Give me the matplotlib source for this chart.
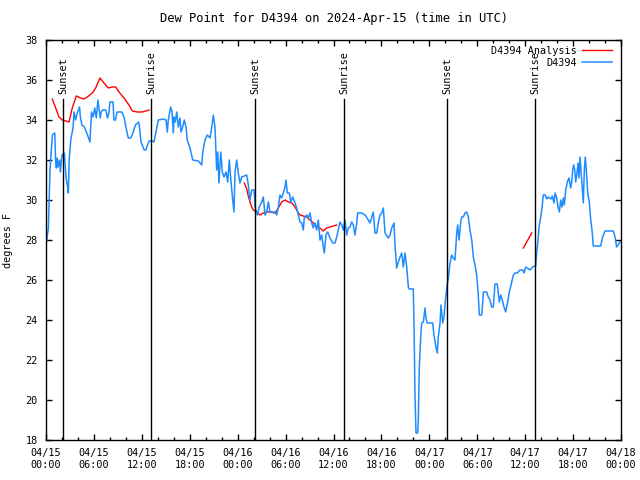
import pandas as pd
import numpy as np
import matplotlib
matplotlib.use("Agg")
import matplotlib.pyplot as plt
import matplotlib.dates as mdates

plt.rcParams["font.family"] = ["DejaVu Sans Mono"]
plt.rcParams["font.size"] = 7.3

start = pd.Timestamp("2024-04-15 00:00")

# observed dew point (hours since start, degrees F)
obs_hours = [0.0, 0.3, 0.5, 0.8, 1.1, 1.2, 1.3, 1.4, 1.5, 1.7, 1.8, 2.0, 2.3, 2.5, 2.7, 2.8,
             2.9, 3.1, 3.4, 3.5, 3.7, 3.9, 4.2, 4.3, 4.5, 4.8, 5.2, 5.5, 5.7, 5.9, 6.1, 6.3,
             6.5, 6.8, 6.9, 7.1, 7.5, 7.7, 7.9, 8.0, 8.4, 8.5, 8.7, 8.9, 9.5, 9.8, 10.0, 10.3,
             10.6, 10.8, 11.2, 11.6, 11.7, 11.9, 12.3, 12.5, 12.9, 13.3, 13.52, 13.77, 14.06, 14.69,
             15.03, 15.19, 15.31, 15.61, 15.78, 15.94, 16.03, 16.19, 16.37, 16.57, 16.78, 16.9, 17.07, 17.32,
             17.53, 17.69, 18.03, 18.37, 19.07, 19.5, 19.62, 19.91, 20.2, 20.54, 20.75, 20.95, 21.16, 21.37,
             21.5, 21.66, 21.88, 22.08, 22.29, 22.54, 22.75, 22.95, 23.17, 23.38, 23.54, 23.67, 23.88, 24.08,
             24.29, 24.51, 24.83, 25.13, 25.33, 25.54, 25.76, 26.05, 26.17, 26.46, 26.71, 27.01, 27.21, 27.42,
             27.64, 27.84, 28.05, 28.68, 28.89, 29.09, 29.3, 29.51, 29.71, 29.93, 30.05, 30.22, 30.47, 30.64,
             30.89, 31.18, 31.39, 31.59, 31.81, 32.02, 32.22, 32.34, 32.64, 32.85, 33.06, 33.27, 33.47, 33.68,
             33.9, 34.1, 34.31, 34.52, 34.72, 34.85, 35.06, 35.27, 35.56, 35.9, 36.19, 36.4, 36.6, 36.81,
             37.03, 37.23, 37.44, 37.65, 37.85, 38.07, 38.28, 38.48, 38.69, 38.91, 39.03, 39.53, 39.95, 40.36,
             40.57, 40.79, 40.98, 41.2, 41.41, 41.61, 41.82, 42.04, 42.24, 42.45, 42.86, 43.08, 43.29, 43.58,
             43.7, 43.91, 44.11, 44.33, 44.54, 44.74, 44.95, 45.17, 45.37, 45.49, 45.99, 46.08, 46.21, 46.33,
             46.54, 46.62, 46.74, 46.92, 47.04, 47.25, 47.46, 47.58, 47.75, 48.42, 48.58, 48.83, 49.0, 49.12,
             49.34, 49.46, 49.55, 49.67, 49.84, 49.96, 50.18, 50.38, 50.59, 50.8, 51.0, 51.21, 51.43, 51.55,
             51.72, 51.93, 52.05, 52.25, 52.47, 52.68, 52.88, 53.09, 53.31, 53.51, 53.72, 53.93, 54.13, 54.26,
             54.56, 54.68, 54.76, 55.18, 55.38, 55.6, 55.81, 56.01, 56.14, 56.22, 56.51, 56.64, 56.76, 56.94,
             57.14, 57.35, 57.56, 57.81, 58.01, 58.23, 58.52, 58.73, 59.02, 59.35, 59.69, 59.85, 60.07, 60.27,
             60.61, 60.94, 61.14, 61.32, 61.44, 61.57, 61.77, 61.95, 62.11, 62.27, 62.52, 62.7, 62.9, 63.2,
             63.4, 63.61, 63.74, 63.95, 64.11, 64.28, 64.45, 64.61, 64.78, 64.9, 65.08, 65.28, 65.49, 65.7,
             65.83, 65.95, 66.08, 66.2, 66.33, 66.49, 66.62, 66.74, 66.87, 66.99, 67.16, 67.28, 67.41, 67.53,
             67.66, 67.83, 68.03, 68.21, 68.37, 68.53, 68.96, 69.46, 69.66, 70.0, 71.04, 71.25, 71.46, 71.88]
obs_dewpt = [27.7, 28.6, 31.5, 33.25, 33.35, 32.0, 31.6, 32.1, 31.65, 32.0, 31.4, 32.25, 32.35, 31.15, 30.65, 30.35,
             32.0, 33.0, 33.65, 34.4, 34.0, 34.35, 34.65, 34.15, 33.75, 33.65, 33.25, 32.9, 34.4, 34.15, 34.6, 34.1,
             35.0, 34.1, 34.4, 34.5, 34.5, 34.1, 34.4, 34.9, 34.9, 34.0, 34.0, 34.4, 34.4, 34.1, 33.65, 33.1,
             33.1, 33.25, 33.75, 33.9, 33.65, 32.9, 32.5, 32.5, 32.95, 32.95, 32.9, 33.4, 34.0, 34.05,
             34.0, 33.4, 34.0, 34.65, 34.4, 33.35, 34.15, 33.9, 34.4, 33.65, 34.1, 33.4, 33.6, 34.0,
             33.65, 33.0, 32.6, 32.0, 31.95, 31.75, 32.35, 33.0, 33.25, 33.1, 33.6, 34.25, 33.65, 31.5,
             32.4, 30.85, 32.4, 31.4, 31.15, 31.4, 30.9, 32.0, 30.9, 30.0, 29.4, 31.4, 32.0, 31.35,
             30.85, 31.15, 31.2, 31.25, 30.75, 30.0, 30.5, 30.5, 29.65, 29.25, 29.65, 29.9, 30.15, 29.25,
             29.4, 29.9, 29.4, 29.4, 29.25, 29.65, 30.25, 30.1, 30.35, 30.65, 31.0, 30.35, 30.35, 29.9,
             30.15, 29.85, 29.6, 29.25, 28.9, 28.85, 28.5, 29.1, 29.25, 29.1, 29.35, 28.85, 28.6, 28.85,
             28.5, 29.0, 28.0, 28.25, 27.65, 27.35, 28.25, 28.4, 28.1, 27.85, 27.85, 28.15, 28.5, 28.9,
             28.75, 28.5, 29.0, 28.25, 28.6, 28.65, 28.9, 28.75, 28.25, 28.85, 29.35, 29.35, 29.25, 29.0,
             28.85, 29.15, 29.4, 28.35, 28.35, 28.85, 29.25, 29.35, 29.6, 28.35, 28.1, 28.25, 28.6, 28.85,
             27.75, 26.6, 26.9, 27.15, 27.35, 26.65, 27.35, 26.65, 25.65, 25.55, 25.55, 23.75, 20.15, 18.35,
             18.35, 19.0, 21.6, 23.15, 23.85, 23.9, 24.6, 24.1, 23.85, 23.85, 23.25, 22.65, 22.35, 23.15,
             23.85, 24.75, 24.35, 23.85, 24.15, 24.75, 25.6, 26.1, 26.85, 27.25, 27.1, 27.0, 28.35, 28.75,
             28.0, 28.9, 29.15, 29.15, 29.35, 29.4, 29.15, 28.5, 28.0, 27.15, 26.75, 26.25, 25.25, 24.25,
             24.25, 24.85, 25.4, 25.4, 25.15, 25.0, 24.65, 24.65, 25.35, 25.8, 25.8, 25.35, 24.9, 25.25,
             25.0, 24.65, 24.4, 24.9, 25.4, 25.75, 26.25, 26.35, 26.35, 26.5, 26.5, 26.35, 26.65, 26.6,
             26.5, 26.65, 26.7, 26.7, 27.35, 27.85, 28.75, 29.15, 29.6, 30.25, 30.25, 30.05, 30.15, 30.05,
             30.2, 29.85, 30.35, 30.1, 29.65, 29.4, 30.0, 29.65, 30.1, 29.75, 30.5, 30.9, 31.1, 30.6,
             30.9, 31.5, 31.75, 31.5, 30.9, 31.35, 31.85, 31.1, 32.15, 31.5, 30.5, 29.85, 31.5, 32.15,
             31.5, 30.35, 29.9, 29.0, 28.5, 27.7, 27.7, 27.7, 28.1, 28.45, 28.45, 28.15, 27.65, 27.9]

# analysis dew point, gaps as NaN
ana_hours = [0.79, 1.21, 1.63, 2.04, 2.47, 2.88, 3.29, 3.79, 4.35, 4.76, 5.17, 5.8, 6.22, 6.76,
             7.26, 7.8, 8.3, 8.73, 9.14, 9.77, 10.39, 10.81, 11.43, 12.06, 12.48, 12.9, 18.0,
             24.83, 25.13, 25.33, 25.54, 25.76, 25.96, 26.38, 26.8, 27.21, 27.64, 28.05, 28.68, 29.09,
             29.51, 29.93, 30.34, 30.77, 31.18, 31.59, 31.81, 32.22, 32.64, 33.06, 33.47, 33.9, 34.31,
             34.72, 35.15, 35.56, 35.98, 36.4, 48.0, 59.77, 60.82]
ana_dewpt = [35.05, 34.6, 34.15, 34.0, 33.95, 33.9, 34.6, 35.2, 35.1, 35.05, 35.15, 35.35, 35.6, 36.1,
             35.85, 35.6, 35.65, 35.65, 35.4, 35.1, 34.75, 34.45, 34.4, 34.4, 34.45, 34.5, np.nan,
             30.85, 30.55, 30.2, 29.9, 29.65, 29.5, 29.4, 29.25, 29.35, 29.4, 29.4, 29.35, 29.6,
             29.9, 30.0, 29.9, 29.85, 29.65, 29.35, 29.25, 29.2, 29.15, 29.0, 28.85, 28.65, 28.6,
             28.45, 28.6, 28.65, 28.7, 28.75, np.nan, 27.6, 28.35]

sun_hours = [2.13, 13.15, 26.17, 37.32, 50.21, 61.23]
sun_labels = ["Sunset", "Sunrise", "Sunset", "Sunrise", "Sunset", "Sunrise"]

obs_t = start + pd.to_timedelta(obs_hours, unit="h")
ana_t = start + pd.to_timedelta(ana_hours, unit="h")
sun_t = start + pd.to_timedelta(sun_hours, unit="h")

fig = plt.figure(figsize=(6.4, 4.8), dpi=100)
ax = fig.add_axes([46 / 640, 40 / 480, 575 / 640, 400 / 480])

ax.plot(ana_t, ana_dewpt, color="#ff0000", lw=1.0, label="D4394 Analysis")
ax.plot(obs_t, obs_dewpt, color="#1e8cff", lw=1.1, label="D4394")

for t, lab in zip(sun_t, sun_labels):
    ax.plot([t, t], [18, 35.05], color="black", lw=1.0)
    ax.text(t, 35.3, lab, rotation=90, ha="center", va="bottom")

ax.set_xlim(start, start + pd.Timedelta(hours=72))
ax.set_ylim(18, 38)
ax.set_yticks(range(18, 39, 2))
ax.xaxis.set_major_locator(mdates.HourLocator(byhour=[0, 6, 12, 18]))
ax.xaxis.set_minor_locator(mdates.HourLocator(byhour=range(0, 24, 2)))
ax.xaxis.set_major_formatter(mdates.DateFormatter("%m/%d\n%H:%M"))
ax.tick_params(which="both", direction="in", top=True, right=True, width=1.0)
ax.tick_params(which="major", length=4, pad=6)
ax.tick_params(which="minor", length=2.5)
for s in ax.spines.values():
    s.set_linewidth(1.0)

ax.set_ylabel("degrees F", labelpad=9)
ax.set_title("Dew Point for D4394 on 2024-Apr-15 (time in UTC)", pad=13)

ax.legend(loc="upper right", bbox_to_anchor=(0.997, 1.003), frameon=False, markerfirst=False,
          handlelength=3.0, labelspacing=0.2, handletextpad=0.5, borderaxespad=0.3)

fig.savefig("out.png", dpi=100)
